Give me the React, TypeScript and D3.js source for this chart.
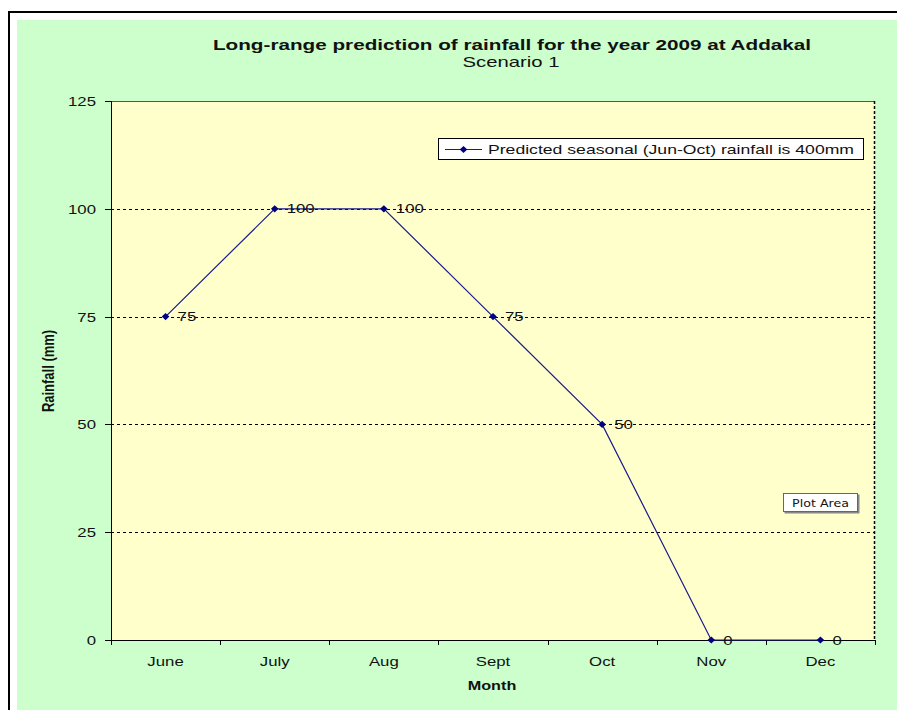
import React, { useEffect, useRef } from 'react';
import * as d3 from 'd3';

const months = ['June', 'July', 'Aug', 'Sept', 'Oct', 'Nov', 'Dec'];
const rainfall = [75, 100, 100, 75, 50, 0, 0];
const yTicks = [0, 25, 50, 75, 100, 125];
const seriesName = 'Predicted seasonal (Jun-Oct) rainfall is 400mm';

const FONT = 'Arial, "Liberation Sans", sans-serif';
// the reference text is stretched sideways, so every label is drawn with a scaleX
const SX = 1.4;

type Sel = d3.Selection<SVGGElement, unknown, null, undefined>;

function addText(
  parent: Sel,
  x: number,
  y: number,
  text: string,
  opts: { size?: number; bold?: boolean; anchor?: string; sx?: number; rotate?: boolean; font?: string } = {}
) {
  const sx = opts.sx ?? SX;
  const tf = opts.rotate
    ? `translate(${x},${y}) rotate(-90) scale(1,${sx})`
    : `translate(${x},${y}) scale(${sx},1)`;
  return parent.append('g').attr('transform', tf)
    .append('text')
    .attr('text-anchor', opts.anchor ?? 'start')
    .attr('font-family', opts.font ?? FONT)
    .attr('font-size', opts.size ?? 12)
    .attr('font-weight', opts.bold ? 'bold' : 'normal')
    .attr('fill', '#111')
    .text(text);
}

const App: React.FC = () => {
  const svgRef = useRef<SVGSVGElement>(null);
  const width = 897;
  const height = 710;

  useEffect(() => {
    if (!svgRef.current) return;
    const svg = d3.select(svgRef.current);
    svg.selectAll('*').remove();
    const root = svg.append('g') as unknown as Sel;

    // outer frame + chart background
    root.append('rect').attr('width', width).attr('height', height).attr('fill', '#ffffff');
    root.append('path')
      .attr('d', `M9,${height} V12 H${width}`)
      .attr('fill', 'none')
      .attr('stroke', '#000')
      .attr('stroke-width', 2);
    root.append('rect')
      .attr('x', 17).attr('y', 20)
      .attr('width', width - 17).attr('height', height - 20)
      .attr('fill', '#ccffcc');

    const plot = { left: 111, top: 101, right: 875, bottom: 640 };
    const pw = plot.right - plot.left;
    const ph = plot.bottom - plot.top;

    const x = d3.scaleBand().domain(months).range([0, pw]).padding(0);
    const y = d3.scaleLinear().domain([0, 125]).range([ph, 0]);

    const g = root.append('g').attr('transform', `translate(${plot.left},${plot.top})`) as Sel;

    g.append('rect').attr('width', pw).attr('height', ph).attr('fill', '#ffffcc');

    // gridlines
    g.append('g')
      .selectAll('line')
      .data(yTicks.filter(t => t > 0 && t < 125))
      .enter()
      .append('line')
      .attr('x1', 0).attr('x2', pw)
      .attr('y1', d => Math.round(y(d)) + 0.5)
      .attr('y2', d => Math.round(y(d)) + 0.5)
      .attr('stroke', '#000')
      .attr('stroke-dasharray', '3,3');

    // plot area border: top solid, right dotted
    g.append('line')
      .attr('x1', 0).attr('x2', pw).attr('y1', 0.5).attr('y2', 0.5)
      .attr('stroke', '#555').attr('stroke-width', 1);
    g.append('line')
      .attr('x1', pw - 0.5).attr('x2', pw - 0.5).attr('y1', 0).attr('y2', ph)
      .attr('stroke', '#000').attr('stroke-width', 1.5)
      .attr('stroke-dasharray', '3,2');

    // y axis
    g.append('line')
      .attr('x1', 0.5).attr('x2', 0.5).attr('y1', 0).attr('y2', ph)
      .attr('stroke', '#000');
    yTicks.forEach(t => {
      const yy = Math.round(y(t)) + 0.5;
      g.append('line')
        .attr('x1', -6).attr('x2', 0).attr('y1', yy).attr('y2', yy)
        .attr('stroke', '#000');
      addText(g, -15, yy + 4, String(t), { anchor: 'end' });
    });

    // x axis with ticks at category boundaries
    g.append('line')
      .attr('x1', 0).attr('x2', pw).attr('y1', ph + 0.5).attr('y2', ph + 0.5)
      .attr('stroke', '#000');
    const bounds = months.map(m => x(m) || 0).concat([pw]);
    g.selectAll('.xtick')
      .data(bounds)
      .enter()
      .append('line')
      .attr('x1', d => Math.round(d) + 0.5)
      .attr('x2', d => Math.round(d) + 0.5)
      .attr('y1', ph).attr('y2', ph + 5)
      .attr('stroke', '#000');
    months.forEach(m => {
      addText(g, (x(m) || 0) + x.bandwidth() / 2, ph + 26, m, { anchor: 'middle' });
    });

    // line series
    const pts = months.map((m, i) => ({ m, v: rainfall[i] }));
    const cx = (d: { m: string }) => (x(d.m) || 0) + x.bandwidth() / 2;
    const line = d3.line<{ m: string; v: number }>()
      .x(d => cx(d))
      .y(d => y(d.v));
    g.append('path')
      .datum(pts)
      .attr('d', line)
      .attr('fill', 'none')
      .attr('stroke', '#1a1a8c')
      .attr('stroke-width', 1.2);

    const diamond = 'M0,-3.6L3.8,0L0,3.6L-3.8,0Z';
    g.selectAll('.pt')
      .data(pts)
      .enter()
      .append('path')
      .attr('d', diamond)
      .attr('transform', d => `translate(${cx(d)},${y(d.v)})`)
      .attr('fill', '#000080');

    pts.forEach(d => {
      addText(g, cx(d) + 12, y(d.v) + 4.5, String(d.v));
    });

    // legend
    const lg = root.append('g').attr('transform', 'translate(438,138)') as Sel;
    lg.append('rect')
      .attr('x', 0.5).attr('y', 0.5).attr('width', 425).attr('height', 21)
      .attr('fill', '#ffffff').attr('stroke', '#000');
    lg.append('line')
      .attr('x1', 7).attr('x2', 44).attr('y1', 11.5).attr('y2', 11.5)
      .attr('stroke', '#1a1a8c').attr('stroke-width', 1.2);
    lg.append('path')
      .attr('d', diamond)
      .attr('transform', 'translate(25.5,11.5)')
      .attr('fill', '#000080');
    addText(lg, 50, 16, seriesName, { size: 12.5, sx: 1.41 });

    // titles
    addText(root, 512, 50, 'Long-range prediction of rainfall for the year 2009 at Addakal', {
      size: 15, bold: true, anchor: 'middle', sx: 1.38,
    });
    addText(root, 511, 67, 'Scenario 1', { size: 14.5, anchor: 'middle', sx: 1.4 });

    addText(root, 492, 690, 'Month', { bold: true, anchor: 'middle', sx: 1.35 });
    addText(root, 54, 371, 'Rainfall (mm)', { size: 13, bold: true, anchor: 'middle', sx: 1.2, rotate: true });

    // "Plot Area" hover tip
    const tip = root.append('g').attr('transform', 'translate(783,493)') as Sel;
    tip.append('rect')
      .attr('x', 1.5).attr('y', 1.5).attr('width', 75).attr('height', 19)
      .attr('fill', '#888');
    tip.append('rect')
      .attr('x', 0.5).attr('y', 0.5).attr('width', 74).attr('height', 18)
      .attr('fill', '#ffffff').attr('stroke', '#666');
    addText(tip, 37.5, 14, 'Plot Area', {
      size: 11, anchor: 'middle', sx: 1.15, font: '"DejaVu Sans", Verdana, sans-serif',
    });
  }, []);

  return (
    <div style={{ position: 'absolute', left: 0, top: 0 }}>
      <svg ref={svgRef} width={width} height={height} style={{ display: 'block' }} />
    </div>
  );
};

export default App;
